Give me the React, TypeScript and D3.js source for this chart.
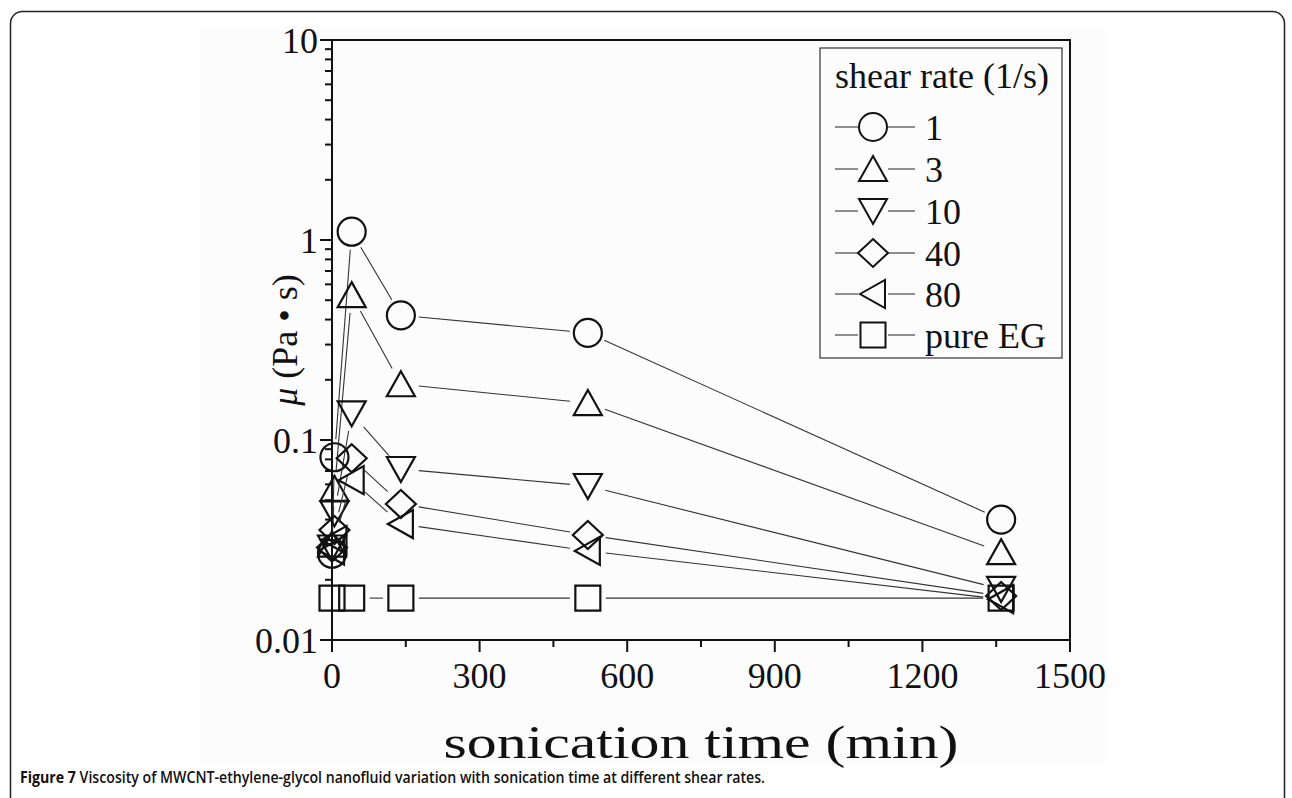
import React from "react";
import * as d3 from "d3";

// ---- data ----
const times = [0, 5, 40, 140, 520, 1360];
const rate1 = [0.027, 0.082, 1.1, 0.42, 0.343, 0.04];
const rate3 = [0.03, 0.057, 0.53, 0.19, 0.153, 0.0275];
const rate10 = [0.029, 0.043, 0.136, 0.0716, 0.0589, 0.018];
const rate40 = [0.029, 0.0355, 0.081, 0.0479, 0.0335, 0.0166];
const rate80 = [0.028, 0.0316, 0.063, 0.038, 0.0279, 0.016];
const egTimes = [0, 40, 140, 520, 1360];
const pureEG = [0.0162, 0.0162, 0.0162, 0.0162, 0.0162];

const seriesNames = ["1", "3", "10", "40", "80", "pure EG"];
const seriesShapes = ["circle", "up", "down", "diamond", "left", "square"];
const xTickValues = [0, 300, 600, 900, 1200, 1500];
const yTickValues = [0.01, 0.1, 1, 10];
const yTickLabels = ["0.01", "0.1", "1", "10"];

const series = [
  { name: seriesNames[0], shape: seriesShapes[0], t: times, v: rate1 },
  { name: seriesNames[1], shape: seriesShapes[1], t: times, v: rate3 },
  { name: seriesNames[2], shape: seriesShapes[2], t: times, v: rate10 },
  { name: seriesNames[3], shape: seriesShapes[3], t: times, v: rate40 },
  { name: seriesNames[4], shape: seriesShapes[4], t: times, v: rate80 },
  { name: seriesNames[5], shape: seriesShapes[5], t: egTimes, v: pureEG },
];

const X0 = 332, X1 = 1070, Y0 = 640, Y1 = 40;
const x = d3.scaleLinear().domain([0, 1500]).range([X0, X1]);
const y = d3.scaleLog().domain([0.01, 10]).range([Y0, Y1]);

function markerPath(shape: string, cx: number, cy: number): string {
  const p = d3.path();
  if (shape === "circle") {
    p.moveTo(cx + 14, cy);
    p.arc(cx, cy, 14, 0, Math.PI * 2);
  } else if (shape === "up") {
    p.moveTo(cx, cy - 13); p.lineTo(cx + 14, cy + 12); p.lineTo(cx - 14, cy + 12); p.closePath();
  } else if (shape === "down") {
    p.moveTo(cx, cy + 13); p.lineTo(cx + 14, cy - 12); p.lineTo(cx - 14, cy - 12); p.closePath();
  } else if (shape === "diamond") {
    p.moveTo(cx, cy - 14); p.lineTo(cx + 15, cy); p.lineTo(cx, cy + 14); p.lineTo(cx - 15, cy); p.closePath();
  } else if (shape === "left") {
    p.moveTo(cx - 13, cy); p.lineTo(cx + 12, cy - 14); p.lineTo(cx + 12, cy + 14); p.closePath();
  } else {
    p.rect(cx - 12.5, cy - 12.5, 25, 25);
  }
  return p.toString();
}

function gapSegments(pts: [number, number][], gap: number) {
  const segs: { x1: number; y1: number; x2: number; y2: number }[] = [];
  for (let i = 0; i < pts.length - 1; i++) {
    const [ax, ay] = pts[i];
    const [bx, by] = pts[i + 1];
    const dx = bx - ax, dy = by - ay;
    const len = Math.hypot(dx, dy);
    if (len <= gap * 2 + 1) continue;
    const ux = dx / len, uy = dy / len;
    segs.push({ x1: ax + ux * gap, y1: ay + uy * gap, x2: bx - ux * gap, y2: by - uy * gap });
  }
  return segs;
}

const serif = "'Liberation Serif', 'Times New Roman', serif";

export default function App() {
  const minorX = d3.range(150, 1500, 300);
  const minorY: number[] = [];
  [0.01, 0.1, 1].forEach((d) => { for (let k = 2; k <= 9; k++) minorY.push(d * k); });

  const legendRows = [127, 169, 211, 253, 294, 335];

  return (
    <svg width={1292} height={798} style={{ position: "absolute", left: 0, top: 0, background: "#fff" }}>
      <rect x={200} y={26} width={906} height={740} fill="#fcfcfc" />
      <rect x={10.5} y={11.5} width={1274} height={830} rx={12} fill="none" stroke="#222" strokeWidth={1.5} />

      {/* frame */}
      <rect x={X0} y={Y1} width={X1 - X0} height={Y0 - Y1} fill="none" stroke="#111" strokeWidth={2} />

      {/* y ticks */}
      {yTickValues.map((v, i) => (
        <g key={"yt" + i}>
          <line x1={X0 - 12} x2={X0} y1={y(v)} y2={y(v)} stroke="#111" strokeWidth={2} />
          <text x={318} y={y(v) + 12.5} textAnchor="end" fontFamily={serif} fontSize={36} fill="#111">{yTickLabels[i]}</text>
        </g>
      ))}
      {minorY.map((v, i) => (
        <line key={"ym" + i} x1={X0 - 7} x2={X0} y1={y(v)} y2={y(v)} stroke="#111" strokeWidth={2} />
      ))}

      {/* x ticks */}
      {xTickValues.map((v, i) => (
        <g key={"xt" + i}>
          <line x1={x(v)} x2={x(v)} y1={Y0} y2={Y0 + 12} stroke="#111" strokeWidth={2} />
          <text x={x(v)} y={688} textAnchor="middle" fontFamily={serif} fontSize={36} fill="#111">{v}</text>
        </g>
      ))}
      {minorX.map((v, i) => (
        <line key={"xm" + i} x1={x(v)} x2={x(v)} y1={Y0} y2={Y0 + 7} stroke="#111" strokeWidth={2} />
      ))}

      {/* axis titles */}
      <text x={(X0 + X1) / 2} y={758} textAnchor="middle" fontFamily={serif} fontSize={46} fill="#111" textLength={515} lengthAdjust="spacingAndGlyphs">sonication time (min)</text>
      <text transform={`translate(297, ${(Y0 + Y1) / 2}) rotate(-90)`} textAnchor="middle" fontFamily={serif} fontSize={36} fill="#111">
        <tspan fontStyle="italic">μ</tspan> (Pa • s)
      </text>

      {/* series */}
      {series.map((s, si) => {
        const pts: [number, number][] = s.t.map((t, i) => [x(t), y(s.v[i])]);
        return (
          <g key={"s" + si}>
            {gapSegments(pts, 18).map((g, gi) => (
              <line key={gi} x1={g.x1} y1={g.y1} x2={g.x2} y2={g.y2} stroke="#333" strokeWidth={1.1} />
            ))}
            {pts.map((p, pi) => (
              <path key={pi} d={markerPath(s.shape, p[0], p[1])} fill="none" stroke="#111" strokeWidth={2.2} />
            ))}
          </g>
        );
      })}

      {/* legend */}
      <rect x={820} y={48} width={242} height={310} fill="none" stroke="#333" strokeWidth={1.2} />
      <text x={835} y={88} fontFamily={serif} fontSize={36} fill="#111">shear rate (1/s)</text>
      {series.map((s, i) => (
        <g key={"lg" + i}>
          <line x1={835} x2={858} y1={legendRows[i]} y2={legendRows[i]} stroke="#333" strokeWidth={1.1} />
          <line x1={888} x2={915} y1={legendRows[i]} y2={legendRows[i]} stroke="#333" strokeWidth={1.1} />
          <path d={markerPath(s.shape, 873, legendRows[i])} fill="none" stroke="#111" strokeWidth={2} />
          <text x={925} y={legendRows[i] + 12.5} fontFamily={serif} fontSize={36} fill="#111">{s.name}</text>
        </g>
      ))}

      {/* caption */}
      <text x={20} y={783} fontFamily="'Open Sans', 'Noto Sans', sans-serif" fontSize={15.5} fill="#111" textLength={745} lengthAdjust="spacingAndGlyphs">
        <tspan fontWeight="bold">Figure 7</tspan>
        <tspan fontWeight={600}> Viscosity of MWCNT-ethylene-glycol nanofluid variation with sonication time at different shear rates.</tspan>
      </text>
    </svg>
  );
}
